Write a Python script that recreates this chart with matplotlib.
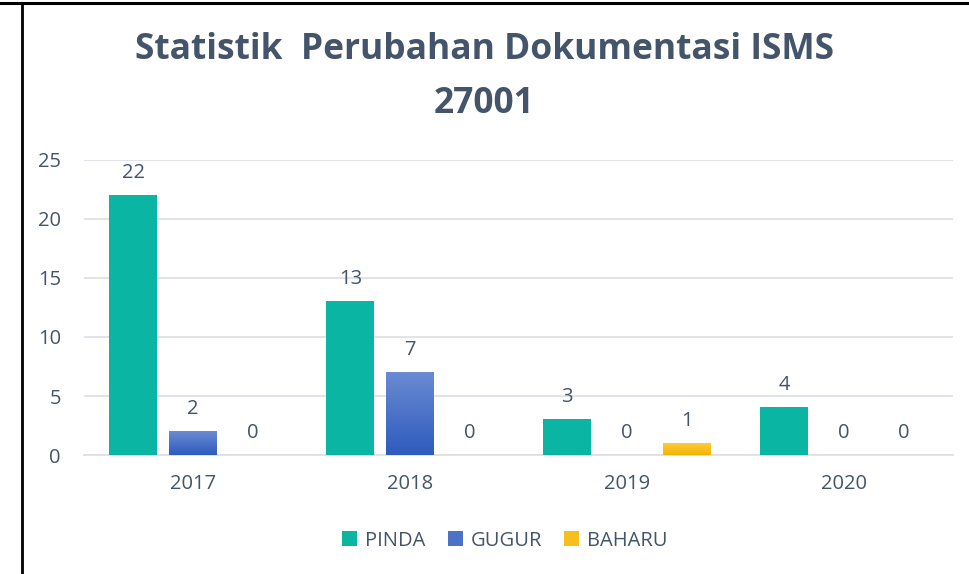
import matplotlib.pyplot as plt
import numpy as np
from matplotlib.colors import LinearSegmentedColormap
from matplotlib.patches import Patch

years = ['2017', '2018', '2019', '2020']
series_names = ['PINDA', 'GUGUR', 'BAHARU']
pinda = [22, 13, 3, 4]
gugur = [2, 7, 0, 0]
baharu = [0, 0, 1, 0]

text_color = '#44546A'
grid_color = '#DDE1E6'
# (top colour, bottom colour) for each series
grads = [('#0BB5A3', '#0BB5A3'), ('#6A8BD3', '#2E5BBE'), ('#FFCA3C', '#F2B600')]
legend_colors = ['#0BB5A3', '#4A73C8', '#F7BF1E']

plt.rcParams['font.family'] = ['Open Sans', 'DejaVu Sans']

fig = plt.figure(figsize=(9.69, 5.74), dpi=100)
ax = fig.add_axes([0.0872, 0.2073, 0.8958, 0.514])

x = np.arange(len(years))
width = 0.22
step = 0.275
values = [pinda, gugur, baharu]

for i, vals in enumerate(values):
    pos = x + (i - 1) * step
    bars = ax.bar(pos, vals, width, color='none', zorder=3)
    cmap = LinearSegmentedColormap.from_list('g%d' % i, [grads[i][1], grads[i][0]])
    for b, v in zip(bars, vals):
        if v > 0:
            bx, by = b.get_x(), b.get_y()
            grad = np.linspace(0, 1, 64).reshape(-1, 1)
            ax.imshow(grad, cmap=cmap, origin='lower', aspect='auto',
                      extent=[bx, bx + b.get_width(), by, by + b.get_height()], zorder=3)
        ax.annotate(str(v), (b.get_x() + b.get_width() / 2, v), xytext=(0, 9),
                    textcoords='offset points', ha='center', va='bottom',
                    fontsize=14.5, color=text_color)

ax.set_xlim(-0.5, len(years) - 0.5)
ax.set_ylim(0, 25)
ax.set_yticks(range(0, 26, 5))
ax.set_xticks(x)
ax.set_xticklabels(years)
ax.tick_params(length=0, labelsize=14.5, colors=text_color)
ax.tick_params(axis='x', pad=14)
ax.tick_params(axis='y', pad=17)
ax.grid(axis='y', color=grid_color, linewidth=1.3, zorder=0)
for s in ['top', 'right', 'left']:
    ax.spines[s].set_visible(False)
ax.spines['bottom'].set_color(grid_color)
ax.spines['bottom'].set_linewidth(1.3)

fig.text(0.5, 1 - 50 / 574, 'Statistik  Perubahan Dokumentasi ISMS', ha='center', va='center',
         fontsize=25.5, fontweight='bold', color=text_color)
fig.text(0.5, 1 - 104 / 574, '27001', ha='center', va='center',
         fontsize=25.5, fontweight='bold', color=text_color)

handles = [Patch(facecolor=c, label=n) for c, n in zip(legend_colors, series_names)]
fig.legend(handles=handles, loc='center', bbox_to_anchor=(0.521, 0.058), ncol=3, frameon=False,
           fontsize=14.5, handlelength=0.75, handleheight=0.75, handletextpad=0.4, columnspacing=1.1,
           labelcolor=text_color)

# black frame edges visible at top and left
fig.add_artist(plt.Line2D([0, 1], [0.994, 0.994], color='black', linewidth=2.2, transform=fig.transFigure))
fig.add_artist(plt.Line2D([0.0222, 0.0222], [0, 0.994], color='black', linewidth=2.0, transform=fig.transFigure))

fig.savefig('out.png', dpi=100)
